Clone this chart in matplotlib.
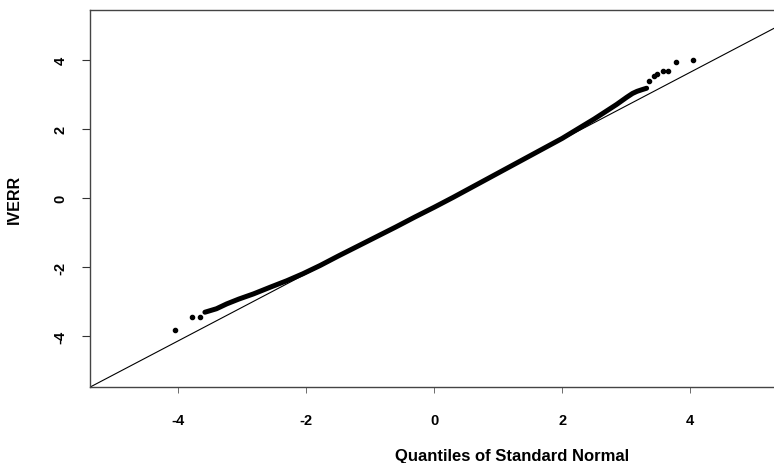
import matplotlib
matplotlib.use("Agg")
import matplotlib.pyplot as plt

# dense part of the QQ plot (theoretical quantile, sample quantile)
band_x = [-3.58, -3.40, -3.24, -3.05, -2.82, -2.55, -2.30, -2.05, -1.78, -1.50,
          -1.20, -0.90, -0.60, -0.30, 0.00, 0.30, 0.60, 0.90, 1.20, 1.50,
          1.70, 2.00, 2.33, 2.50, 2.70, 2.85, 3.01, 3.10, 3.17, 3.25, 3.32]
band_y = [-3.30, -3.20, -3.06, -2.92, -2.77, -2.57, -2.39, -2.19, -1.95, -1.68,
          -1.40, -1.12, -0.84, -0.55, -0.27, 0.02, 0.32, 0.62, 0.92, 1.22,
          1.42, 1.72, 2.09, 2.28, 2.52, 2.70, 2.91, 3.02, 3.08, 3.13, 3.17]

# isolated tail points
tail_x = [-4.05, -3.78, -3.65, 3.35, 3.43, 3.49, 3.57, 3.65, 3.78, 4.05]
tail_y = [-3.81, -3.45, -3.45, 3.39, 3.51, 3.58, 3.68, 3.68, 3.92, 3.99]

# reference line (qqline)
line_intercept = -0.25
line_slope = 0.97

x_ticks = [-4, -2, 0, 2, 4]
y_ticks = [-4, -2, 0, 2, 4]

plt.rcParams['font.family'] = ['Liberation Sans', 'DejaVu Sans']

fig = plt.figure(figsize=(7.74, 4.64), dpi=100)
ax = fig.add_axes([90 / 774, 76 / 464, 684 / 774, 377 / 464])

ax.plot(band_x, band_y, color='black', lw=3.6, solid_capstyle='round', solid_joinstyle='round')
ax.plot(tail_x, tail_y, 'o', color='black', ms=3, mec='black')
ax.axline((0, line_intercept), slope=line_slope, color='black', lw=0.8)

ax.set_xlim(-5.375, 5.31)
ax.set_ylim(-5.46, 5.43)
ax.set_xticks(x_ticks)
ax.set_yticks(y_ticks)
ax.set_xticklabels([str(t) for t in x_ticks], fontsize=10.5, fontweight='bold')
ax.set_yticklabels([str(t) for t in y_ticks], fontsize=10.5, fontweight='bold',
                   rotation=90, va='center')

ax.tick_params(axis='x', length=4, width=0.6, pad=15, color='#555555')
ax.tick_params(axis='y', length=6, width=0.8, pad=10, color='#333333')

for side in ['left', 'bottom', 'top']:
    ax.spines[side].set_color('#444444')
    ax.spines[side].set_linewidth(1.0)
ax.spines['right'].set_visible(False)

ax.set_xlabel('Quantiles of Standard Normal', fontsize=12, fontweight='bold', va='center')
ax.set_ylabel('IVERR', fontsize=11.5, fontweight='bold', va='center')
ax.xaxis.set_label_coords(0.617, -0.182)
ax.yaxis.set_label_coords(-0.11, 0.5)

fig.savefig('out.png', dpi=100)
